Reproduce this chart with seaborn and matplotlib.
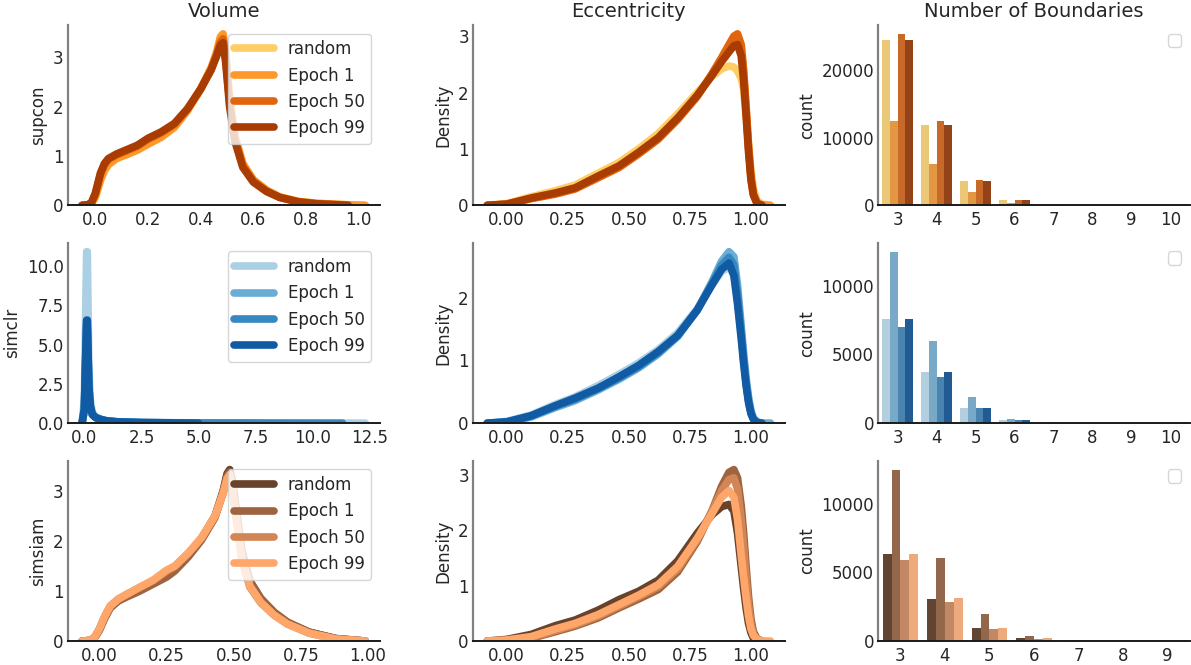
import numpy as np
import pandas as pd
import matplotlib
matplotlib.use('Agg')
import matplotlib.pyplot as plt
import seaborn as sns

nan = np.nan
runs = ['random', 'Epoch 1', 'Epoch 50', 'Epoch 99']
methods = ['supcon', 'simclr', 'simsiam']

# ---- Volume density curves ----
vol_x_supcon = [-0.05, -0.03, -0.015, 0.0, 0.01, 0.02, 0.035, 0.05, 0.08, 0.12, 0.16, 0.2, 0.25, 0.3,
                0.35, 0.4, 0.44, 0.46, 0.475, 0.485, 0.495, 0.51, 0.53, 0.56, 0.6, 0.65, 0.7, 0.77,
                0.84, 0.96, 1.025]
vol_supcon_random = [0, 0.01, 0.03, 0.15, 0.32, 0.5, 0.7, 0.82, 0.95, 1.04, 1.13, 1.25, 1.39, 1.59,
                     1.93, 2.36, 2.78, 3.07, 3.36, 3.42, 3.05, 2.15, 1.4, 0.84, 0.51, 0.3, 0.17, 0.08,
                     0.04, 0.01, 0]
vol_supcon_e1 = [0, 0.01, 0.03, 0.17, 0.34, 0.52, 0.72, 0.83, 0.95, 1.03, 1.12, 1.24, 1.38, 1.58,
                 1.92, 2.36, 2.8, 3.1, 3.42, 3.48, 3.1, 2.2, 1.42, 0.85, 0.52, 0.31, 0.17, 0.08,
                 0.04, 0.01, 0]
vol_supcon_e50 = [0, 0.01, 0.04, 0.22, 0.42, 0.63, 0.82, 0.93, 1.02, 1.11, 1.2, 1.34, 1.47, 1.64,
                  1.95, 2.36, 2.76, 3.05, 3.32, 3.38, 2.98, 2.08, 1.34, 0.8, 0.49, 0.29, 0.16, 0.07,
                  0.03, 0.0, nan]
vol_supcon_e99 = [0, 0.01, 0.05, 0.24, 0.45, 0.66, 0.85, 0.95, 1.04, 1.13, 1.22, 1.36, 1.49, 1.66,
                  1.96, 2.36, 2.75, 3.02, 3.25, 3.3, 2.9, 2.0, 1.3, 0.77, 0.47, 0.28, 0.16, 0.07,
                  0.03, 0.0, nan]

vol_x_simclr = [-0.1, 0.0, 0.05, 0.1, 0.13, 0.16, 0.2, 0.26, 0.35, 0.5, 0.75, 1.0, 1.5, 2.5, 5.0,
                7.5, 11.3, 12.3]
vol_simclr_random = [0, 1.5, 6.0, 10.9, 10.9, 7.5, 3.5, 1.5, 0.7, 0.4, 0.25, 0.15, 0.08, 0.04, 0.02,
                     0.01, 0.01, 0]
vol_simclr_e1 = [0, 0.8, 3.4, 6.0, 6.0, 4.3, 2.2, 1.05, 0.55, 0.35, 0.22, 0.14, 0.08, 0.04, 0.01,
                 0.0, nan, nan]
vol_simclr_e50 = [0, 0.85, 3.6, 6.3, 6.3, 4.5, 2.25, 1.08, 0.55, 0.35, 0.22, 0.14, 0.08, 0.04, 0.01,
                  0.01, 0.0, nan]
vol_simclr_e99 = [0, 0.9, 3.8, 6.55, 6.55, 4.6, 2.3, 1.1, 0.55, 0.35, 0.22, 0.14, 0.08, 0.04, 0.0,
                  nan, nan, nan]

vol_x_simsiam = [-0.065, -0.04, -0.02, 0.0, 0.02, 0.04, 0.07, 0.1, 0.15, 0.2, 0.25, 0.28, 0.33, 0.38,
                 0.43, 0.46, 0.475, 0.485, 0.495, 0.51, 0.53, 0.56, 0.6, 0.65, 0.7, 0.78, 0.88, 0.99]
vol_simsiam_random = [0, 0.01, 0.05, 0.23, 0.48, 0.68, 0.82, 0.9, 1.03, 1.18, 1.33, 1.45, 1.72, 2.05,
                      2.5, 3.0, 3.35, 3.43, 3.2, 2.6, 1.8, 1.2, 0.85, 0.57, 0.37, 0.18, 0.05, 0]
vol_simsiam_e1 = [0, 0.01, 0.05, 0.22, 0.46, 0.66, 0.8, 0.88, 1.0, 1.14, 1.28, 1.4, 1.68, 2.02,
                  2.47, 2.97, 3.3, 3.38, 3.15, 2.55, 1.78, 1.2, 0.86, 0.58, 0.38, 0.18, 0.05, 0]
vol_simsiam_e50 = [0, 0.01, 0.06, 0.25, 0.5, 0.7, 0.84, 0.93, 1.07, 1.21, 1.4, 1.49, 1.75, 2.06,
                   2.5, 2.95, 3.22, 3.3, 3.02, 2.42, 1.63, 1.08, 0.77, 0.52, 0.34, 0.16, 0.04, 0]
vol_simsiam_e99 = [0, 0.01, 0.06, 0.25, 0.5, 0.7, 0.84, 0.93, 1.08, 1.22, 1.42, 1.5, 1.76, 2.07,
                   2.5, 2.95, 3.25, 3.33, 3.05, 2.45, 1.65, 1.1, 0.78, 0.52, 0.34, 0.16, 0.04, 0]

# ---- Eccentricity density curves ----
ecc_x = [-0.08, 0.0, 0.1, 0.2, 0.28, 0.375, 0.46, 0.54, 0.62, 0.7, 0.78, 0.84, 0.88, 0.91, 0.93,
         0.945, 0.96, 0.97, 0.98, 0.99, 1.0, 1.01, 1.025, 1.045, 1.08]
ecc_supcon_random = [0, 0.03, 0.15, 0.26, 0.36, 0.57, 0.76, 1.0, 1.27, 1.62, 2.0, 2.28, 2.42, 2.47,
                     2.45, 2.38, 2.25, 2.05, 1.6, 1.1, 0.62, 0.3, 0.08, 0.02, 0]
ecc_supcon_e1 = [0, 0.02, 0.12, 0.21, 0.3, 0.5, 0.68, 0.92, 1.18, 1.53, 1.94, 2.32, 2.6, 2.8, 2.94,
                 2.97, 2.8, 2.35, 1.72, 1.03, 0.5, 0.2, 0.04, 0.01, 0]
ecc_supcon_e50 = [0, 0.02, 0.12, 0.2, 0.29, 0.49, 0.67, 0.91, 1.17, 1.52, 1.93, 2.33, 2.62, 2.85,
                  3.0, 3.04, 2.85, 2.4, 1.75, 1.05, 0.5, 0.2, 0.04, 0.0, nan]
ecc_supcon_e99 = [0, 0.02, 0.13, 0.22, 0.31, 0.52, 0.7, 0.94, 1.2, 1.55, 1.95, 2.3, 2.55, 2.72, 2.83,
                  2.85, 2.65, 2.2, 1.6, 0.95, 0.45, 0.18, 0.03, 0.0, nan]

ecc_simclr_random = [0, 0.03, 0.13, 0.3, 0.42, 0.6, 0.78, 0.96, 1.17, 1.44, 1.82, 2.2, 2.42, 2.48,
                     2.38, 1.95, 1.4, 1.0, 0.65, 0.37, 0.17, 0.07, 0.02, 0.0, 0]
ecc_simclr_e1 = [0, 0.01, 0.1, 0.25, 0.36, 0.53, 0.7, 0.88, 1.1, 1.38, 1.8, 2.25, 2.58, 2.73, 2.65,
                 2.2, 1.55, 1.12, 0.72, 0.42, 0.2, 0.08, 0.02, 0.0, 0]
ecc_simclr_e50 = [0, 0.02, 0.11, 0.27, 0.38, 0.55, 0.72, 0.9, 1.12, 1.39, 1.8, 2.22, 2.52, 2.64, 2.52,
                  2.05, 1.45, 1.02, 0.65, 0.36, 0.17, 0.07, 0.01, 0.0, nan]
ecc_simclr_e99 = [0, 0.02, 0.12, 0.28, 0.4, 0.56, 0.74, 0.92, 1.14, 1.4, 1.8, 2.2, 2.45, 2.55, 2.35,
                  1.9, 1.35, 0.95, 0.6, 0.33, 0.15, 0.06, 0.01, 0.0, nan]

ecc_simsiam_random = [0, 0.03, 0.12, 0.28, 0.38, 0.56, 0.75, 0.9, 1.1, 1.45, 1.95, 2.28, 2.43, 2.47,
                      2.35, 1.95, 1.35, 0.95, 0.6, 0.32, 0.15, 0.05, 0.01, 0, nan]
ecc_simsiam_e1 = [0, 0.01, 0.05, 0.17, 0.27, 0.42, 0.6, 0.76, 0.93, 1.25, 1.8, 2.35, 2.8, 3.05, 3.1,
                  2.95, 2.45, 1.95, 1.35, 0.8, 0.4, 0.17, 0.04, 0.0, nan]
ecc_simsiam_e50 = [0, 0.01, 0.06, 0.19, 0.29, 0.45, 0.63, 0.8, 0.98, 1.3, 1.83, 2.35, 2.72, 2.92,
                   2.95, 2.75, 2.2, 1.7, 1.15, 0.65, 0.3, 0.12, 0.03, 0, nan]
ecc_simsiam_e99 = [0, 0.02, 0.08, 0.22, 0.32, 0.48, 0.66, 0.83, 1.02, 1.35, 1.86, 2.3, 2.6, 2.72, 2.6,
                   2.2, 1.55, 1.15, 0.78, 0.45, 0.22, 0.1, 0.03, 0.0, 0]

# ---- Number of boundaries (counts) ----
nb_supcon = [3, 4, 5, 6, 7, 8, 9, 10]
cnt_supcon_random = [24500, 11900, 3570, 740, 120, 25, 5, 1]
cnt_supcon_e1 = [12480, 6090, 1930, 350, 60, 10, 2, 1]
cnt_supcon_e50 = [25400, 12480, 3720, 740, 130, 30, 6, 1]
cnt_supcon_e99 = [24500, 11900, 3570, 740, 120, 25, 5, 1]

nb_simclr = [3, 4, 5, 6, 7, 8, 9, 10]
cnt_simclr_random = [7600, 3750, 1070, 200, 40, 8, 2, 1]
cnt_simclr_e1 = [12470, 6010, 1870, 340, 70, 12, 3, 1]
cnt_simclr_e50 = [7020, 3390, 1070, 200, 40, 8, 2, 1]
cnt_simclr_e99 = [7600, 3750, 1140, 200, 45, 8, 2, 1]

nb_simsiam = [3, 4, 5, 6, 7, 8, 9]
cnt_simsiam_random = [6350, 3070, 950, 220, 35, 5, 1]
cnt_simsiam_e1 = [12480, 6060, 1970, 365, 60, 10, 2]
cnt_simsiam_e50 = [5910, 2850, 880, 150, 25, 4, 1]
cnt_simsiam_e99 = [6350, 3140, 950, 220, 35, 5, 1]

palettes = [sns.color_palette('YlOrBr', 5)[1:],
            sns.color_palette('Blues', 5)[1:],
            sns.color_palette('copper', 5)[1:]]

vol = [(vol_x_supcon, [vol_supcon_random, vol_supcon_e1, vol_supcon_e50, vol_supcon_e99]),
       (vol_x_simclr, [vol_simclr_random, vol_simclr_e1, vol_simclr_e50, vol_simclr_e99]),
       (vol_x_simsiam, [vol_simsiam_random, vol_simsiam_e1, vol_simsiam_e50, vol_simsiam_e99])]
ecc = [(ecc_x, [ecc_supcon_random, ecc_supcon_e1, ecc_supcon_e50, ecc_supcon_e99]),
       (ecc_x, [ecc_simclr_random, ecc_simclr_e1, ecc_simclr_e50, ecc_simclr_e99]),
       (ecc_x, [ecc_simsiam_random, ecc_simsiam_e1, ecc_simsiam_e50, ecc_simsiam_e99])]
bnd = [(nb_supcon, [cnt_supcon_random, cnt_supcon_e1, cnt_supcon_e50, cnt_supcon_e99]),
       (nb_simclr, [cnt_simclr_random, cnt_simclr_e1, cnt_simclr_e50, cnt_simclr_e99]),
       (nb_simsiam, [cnt_simsiam_random, cnt_simsiam_e1, cnt_simsiam_e50, cnt_simsiam_e99])]


def long_df(xs, curves, ycol):
    return pd.DataFrame({'x': np.tile(xs, len(curves)),
                         ycol: np.concatenate([np.asarray(c, dtype=float) for c in curves]),
                         'run': np.repeat(runs, len(xs))}).dropna()


def density(ax, xs, curves, pal, legend):
    df = long_df(xs, curves, 'Density')
    sns.lineplot(data=df, x='x', y='Density', hue='run', hue_order=runs, palette=pal,
                 estimator=None, errorbar=None, linewidth=5.5, legend=legend, ax=ax)
    ax.set_ylim(bottom=0)
    ax.set_xlabel('')


sns.set_style('white')
plt.rcParams['font.family'] = ['DejaVu Sans']
plt.rcParams.update({'font.size': 12, 'axes.titlesize': 14, 'axes.labelsize': 12,
                     'xtick.labelsize': 12, 'ytick.labelsize': 12, 'legend.fontsize': 12,
                     'xtick.major.size': 0, 'ytick.major.size': 0,
                     'xtick.major.pad': 4, 'ytick.major.pad': 3})

fig, axes = plt.subplots(3, 3, figsize=(11.91, 6.65), dpi=100)
plt.subplots_adjust(left=0.057, right=0.999, top=0.962, bottom=0.036, wspace=0.30, hspace=0.21)

for i in range(3):
    pal = palettes[i]

    ax = axes[i, 0]
    density(ax, vol[i][0], vol[i][1], pal, True)
    sns.move_legend(ax, 'upper right', title=None, handlelength=2.4, frameon=True)
    ax.set_ylabel(methods[i])

    ax = axes[i, 1]
    density(ax, ecc[i][0], ecc[i][1], pal, False)
    ax.set_xticks([0, 0.25, 0.5, 0.75, 1.0])

    ax = axes[i, 2]
    df = long_df(bnd[i][0], bnd[i][1], 'count')
    sns.barplot(data=df, x='x', y='count', hue='run', hue_order=runs, palette=pal,
                linewidth=0, legend=False, ax=ax)
    ax.set_xlabel('')
    ax.legend(handles=[], labels=[], loc='upper right')

axes[0, 0].set_xticks([0, 0.2, 0.4, 0.6, 0.8, 1.0])
axes[2, 0].set_xticks([0, 0.25, 0.5, 0.75, 1.0])

axes[0, 0].set_title('Volume')
axes[0, 1].set_title('Eccentricity')
axes[0, 2].set_title('Number of Boundaries')

sns.despine()
for ax in axes.flat:
    ax.spines['left'].set_color('0.5')
    ax.spines['left'].set_linewidth(1.6)
    ax.spines['bottom'].set_color('0.1')
    ax.spines['bottom'].set_linewidth(1.4)

plt.savefig('out.png', dpi=100)
